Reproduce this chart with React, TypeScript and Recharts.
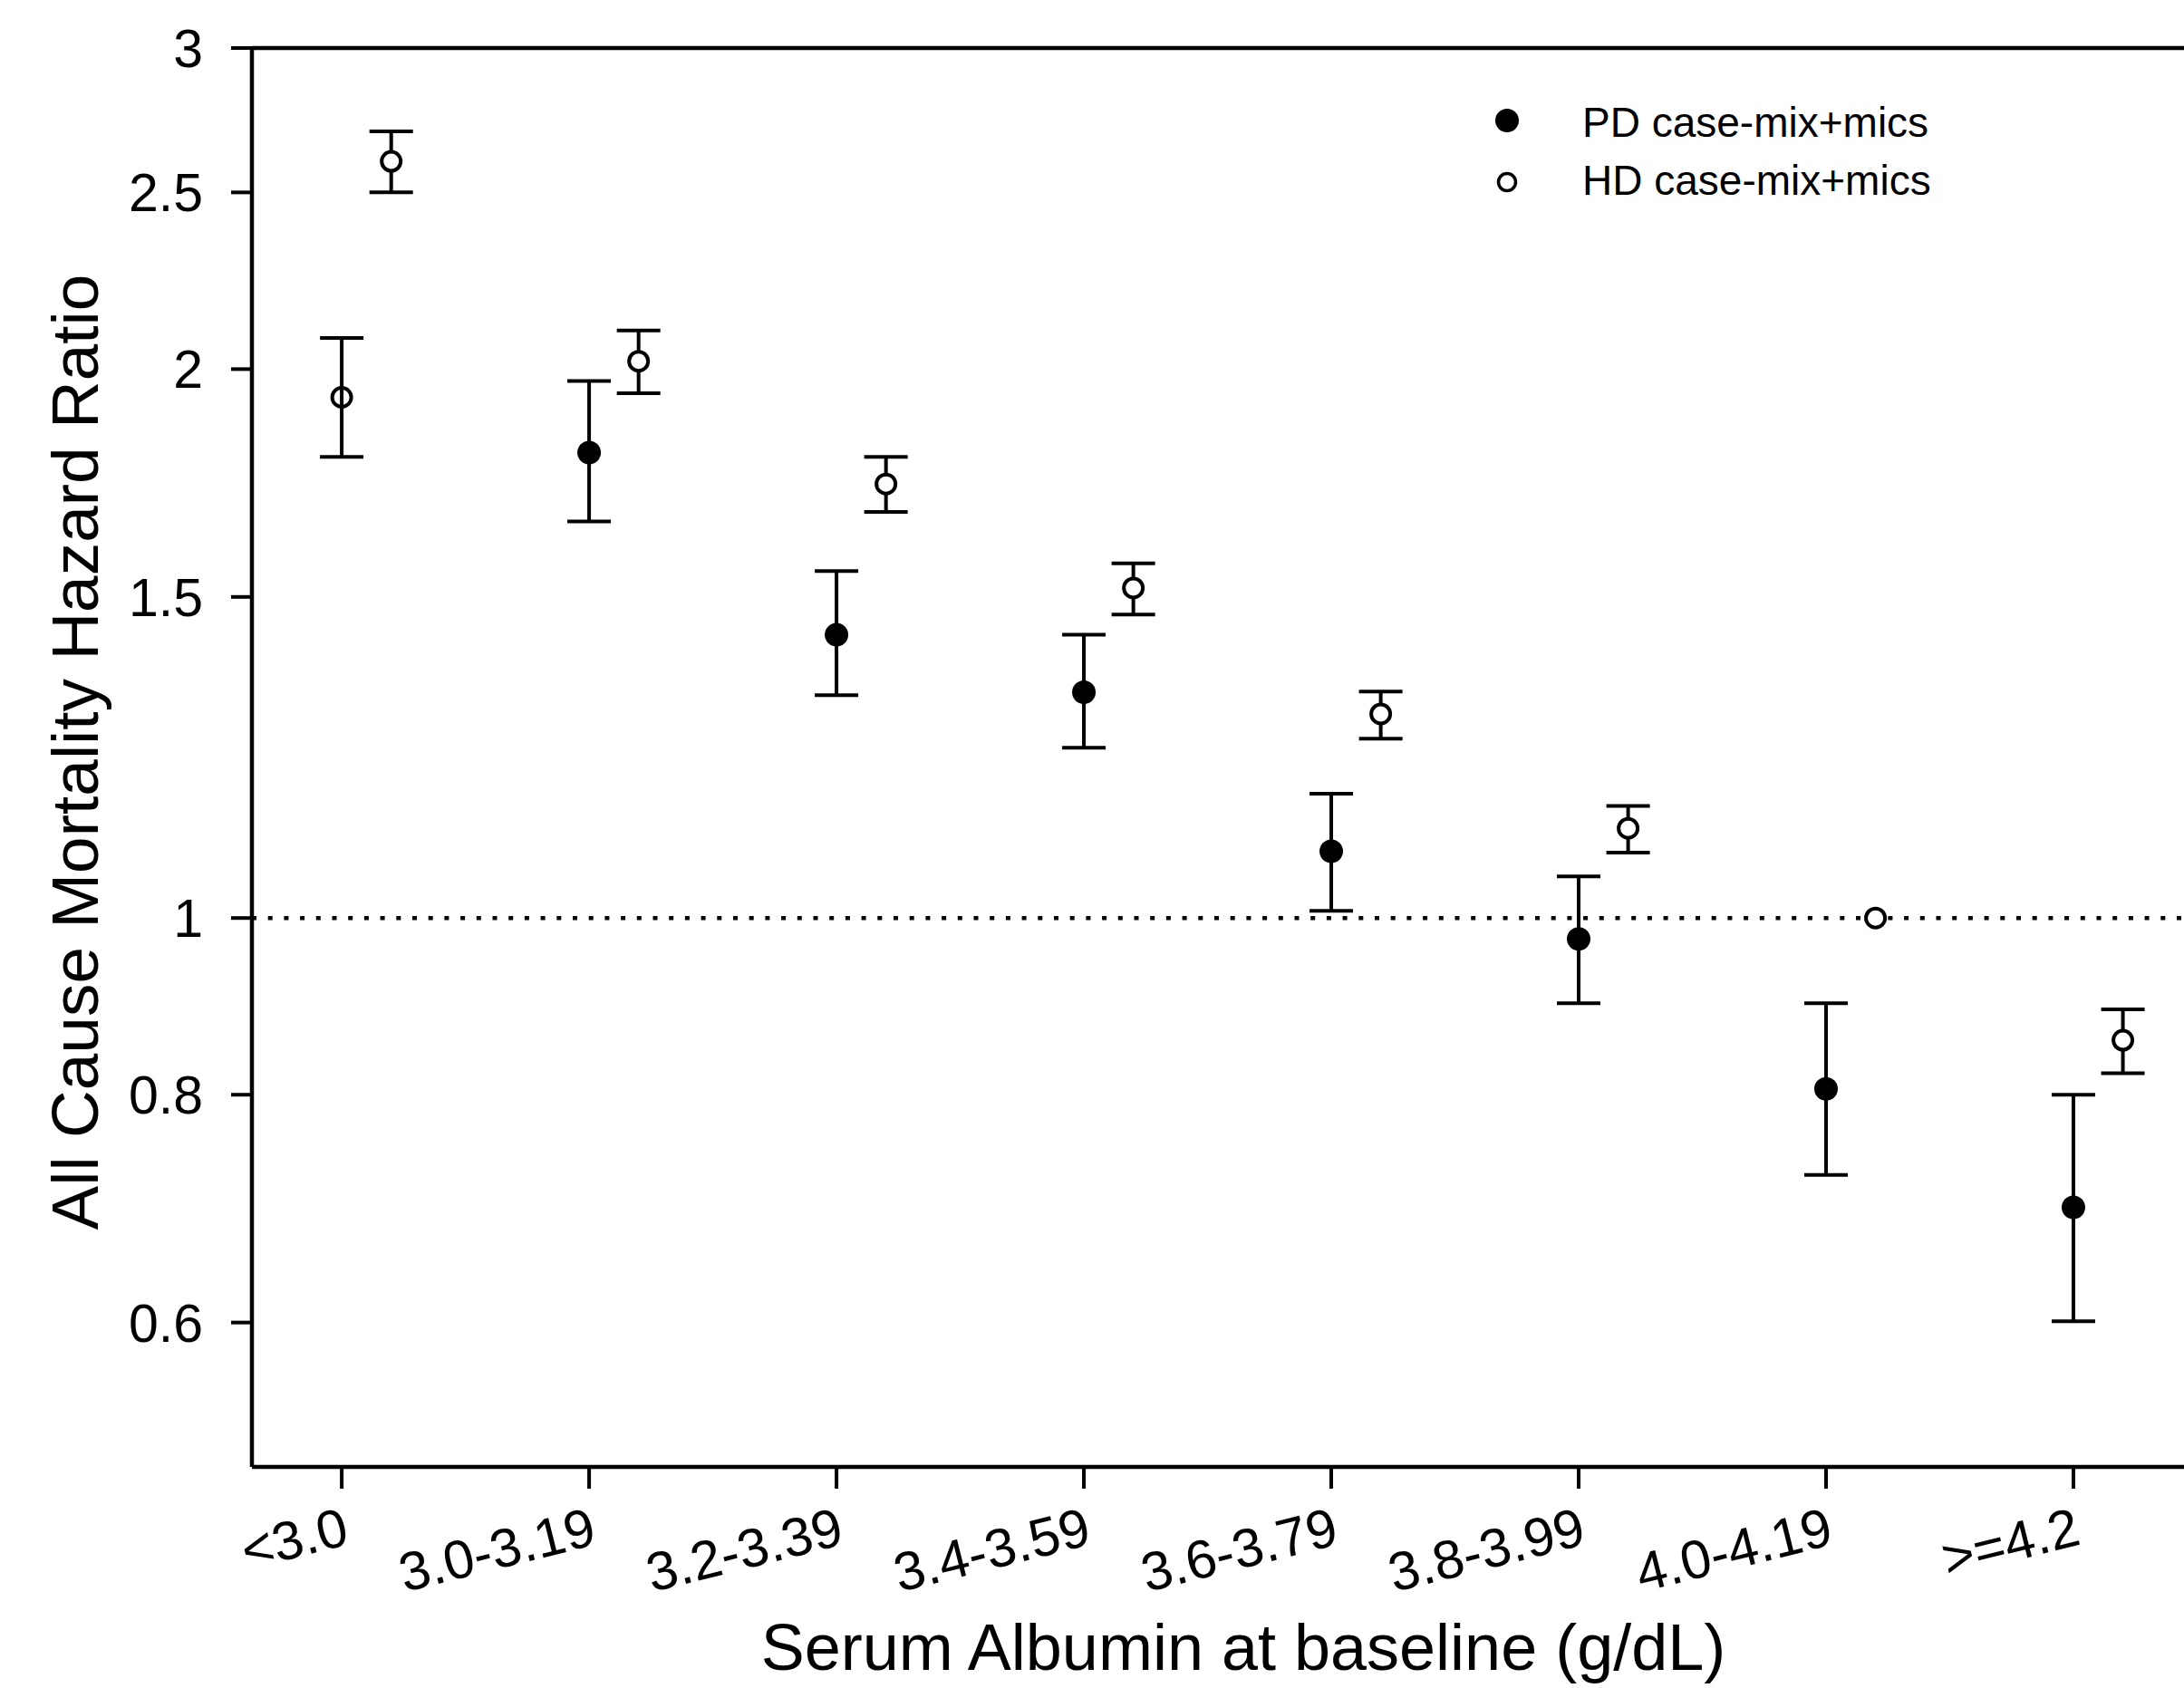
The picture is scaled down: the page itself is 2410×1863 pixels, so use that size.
import React from "react";
import {
  ScatterChart,
  Scatter,
  XAxis,
  YAxis,
  ErrorBar,
  ReferenceLine,
  Legend,
} from "recharts";

const FONT = '"Liberation Sans", Arial, Helvetica, sans-serif';

// serum albumin groups (g/dL)
const categories = [
  "<3.0",
  "3.0-3.19",
  "3.2-3.39",
  "3.4-3.59",
  "3.6-3.79",
  "3.8-3.99",
  "4.0-4.19",
  ">=4.2",
];

const PD_NAME = "PD case-mix+mics";
const HD_NAME = "HD case-mix+mics";
const seriesOrder = [PD_NAME, HD_NAME];

// PD case-mix+mics
const pdHR = [1.93, 1.8, 1.43, 1.33, 1.088, 0.974, 0.806, 0.694];
const pdLow = [1.79, 1.65, 1.325, 1.24, 1.009, 0.898, 0.723, 0.601];
const pdHigh = [2.08, 1.97, 1.55, 1.43, 1.17, 1.054, 0.898, 0.8];

// HD case-mix+mics (4.0-4.19 is the reference group, no CI)
const hdHR = [2.6, 2.02, 1.73, 1.517, 1.294, 1.12, 1.0, 0.857];
const hdLow = [2.5, 1.94, 1.67, 1.467, 1.254, 1.086, null, 0.822];
const hdHigh = [2.7, 2.1, 1.79, 1.565, 1.331, 1.152, null, 0.891];

const yTicks = [0.6, 0.8, 1, 1.5, 2, 2.5, 3];

const HD_SHIFT = 0.2;
const PD_OPEN = [0]; // first PD marker is drawn open in the original

const pdData = pdHR.map((v, i) => ({
  x: i,
  y: v,
  err: [v - pdLow[i], pdHigh[i] - v],
  idx: i,
}));

const hdData = hdHR
  .map((v, i) => ({
    x: i + HD_SHIFT,
    y: v,
    err: [v - (hdLow[i] ?? v), (hdHigh[i] ?? v) - v],
    hasCI: hdLow[i] != null,
  }))
  .filter((d) => d.hasCI);

const hdRefData = hdHR
  .map((v, i) => ({ x: i + HD_SHIFT, y: v, hasCI: hdLow[i] != null }))
  .filter((d) => !d.hasCI);

const PdDot = (props: any) => {
  const { cx, cy, payload } = props;
  if (PD_OPEN.includes(payload.idx)) {
    return <circle cx={cx} cy={cy} r={10.5} fill="none" stroke="#000" strokeWidth={4} />;
  }
  return <circle cx={cx} cy={cy} r={13} fill="#000" />;
};

const HdDot = (props: any) => {
  const { cx, cy } = props;
  return <circle cx={cx} cy={cy} r={10.5} fill="#fff" stroke="#000" strokeWidth={4} />;
};

const XTick = (props: any) => {
  const { x, y, payload } = props;
  const ax = x + 10;
  const ay = y + 59;
  return (
    <text
      x={ax}
      y={ay}
      transform={`rotate(-14, ${ax}, ${ay})`}
      textAnchor="end"
      fontSize={60}
      fontFamily={FONT}
      fill="#000"
    >
      {categories[Math.round(payload.value)]}
    </text>
  );
};

const LegendBox = (props: any) => {
  const names = (props.payload || [])
    .filter((p: any) => p.type !== "none")
    .map((p: any) => p.value);
  const items = seriesOrder.filter((n) => names.includes(n));
  return (
    <svg width={660} height={150}>
      {items.map((name: string, i: number) => (
        <g key={name}>
          {name === PD_NAME ? (
            <circle cx={43} cy={38 + 68 * i} r={13} fill="#000" />
          ) : (
            <circle cx={43} cy={38 + 68 * i} r={9.5} fill="#fff" stroke="#000" strokeWidth={3.5} />
          )}
          <text x={126} y={56 + 64 * i} fontSize={46} fontFamily={FONT} fill="#000">
            {name}
          </text>
        </g>
      ))}
    </svg>
  );
};

export default function App() {
  return (
    <div style={{ width: 2410, height: 1863, background: "#fff" }}>
      <style>{"body{margin:0;background:#fff}"}</style>
      <ScatterChart
        width={2410}
        height={1863}
        margin={{ top: 53, right: 0, bottom: 0, left: 0 }}
      >
        <XAxis
          type="number"
          dataKey="x"
          domain={[-0.363, 7.447]}
          ticks={[0, 1, 2, 3, 4, 5, 6, 7]}
          allowDataOverflow
          height={244}
          tickSize={24}
          axisLine={{ stroke: "#000", strokeWidth: 4.5 }}
          tickLine={{ stroke: "#000", strokeWidth: 4 }}
          tick={<XTick />}
          interval={0}
          label={{
            content: () => (
              <text
                x={1372}
                y={1843}
                textAnchor="middle"
                fontSize={72}
                fontFamily={FONT}
                fill="#000"
              >
                Serum Albumin at baseline (g/dL)
              </text>
            ),
          }}
        />
        <YAxis
          type="number"
          dataKey="y"
          scale="log"
          domain={[0.5, 3]}
          ticks={yTicks}
          allowDataOverflow
          width={278}
          tickSize={23}
          tickMargin={31}
          axisLine={{ stroke: "#000", strokeWidth: 4.5 }}
          tickLine={{ stroke: "#000", strokeWidth: 4 }}
          tick={{ fill: "#000", fontSize: 59, fontFamily: FONT }}
          interval={0}
          label={{
            content: () => (
              <text
                transform="translate(108,830) rotate(-90)"
                textAnchor="middle"
                fontSize={73}
                fontFamily={FONT}
                fill="#000"
              >
                All Cause Mortality Hazard Ratio
              </text>
            ),
          }}
        />
        <ReferenceLine y={3} stroke="#000" strokeWidth={4.5} />
        <ReferenceLine y={1} stroke="#000" strokeWidth={4.5} strokeDasharray="5 12.7" />
        <Legend
          layout="horizontal"
          verticalAlign="middle"
          align="center"
          content={<LegendBox />}
          wrapperStyle={{ left: 1620, top: 95, width: 660, height: 150 }}
        />
        <Scatter
          name={PD_NAME}
          data={pdData}
          shape={<PdDot />}
          fill="#000"
          isAnimationActive={false}
        >
          <ErrorBar dataKey="err" direction="y" width={24} stroke="#000" strokeWidth={4} />
        </Scatter>
        <Scatter
          name={HD_NAME}
          data={hdData}
          shape={<HdDot />}
          fill="#fff"
          isAnimationActive={false}
        >
          <ErrorBar dataKey="err" direction="y" width={24} stroke="#000" strokeWidth={4} />
        </Scatter>
        <Scatter
          name="HD reference"
          data={hdRefData}
          shape={<HdDot />}
          legendType="none"
          isAnimationActive={false}
        />
      </ScatterChart>
    </div>
  );
}
